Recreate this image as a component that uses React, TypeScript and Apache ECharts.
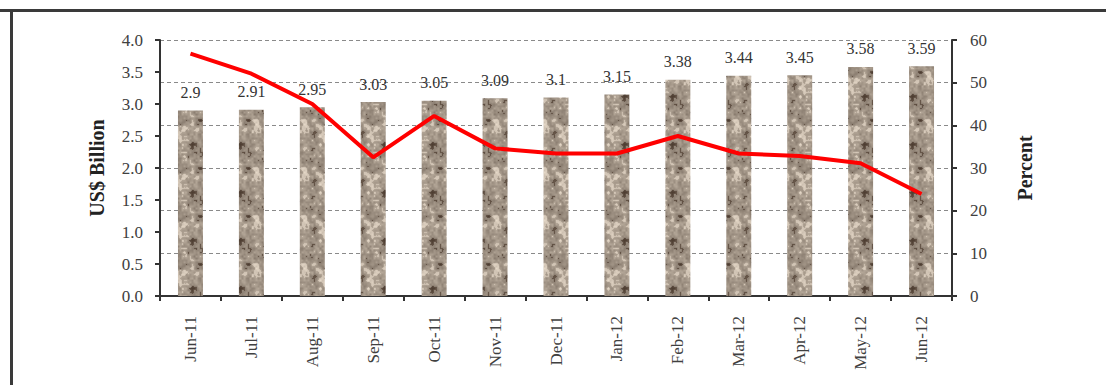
import React, { useEffect, useRef } from "react";
import * as echarts from "echarts";

const months = [
  "Jun-11", "Jul-11", "Aug-11", "Sep-11", "Oct-11", "Nov-11", "Dec-11",
  "Jan-12", "Feb-12", "Mar-12", "Apr-12", "May-12", "Jun-12",
];
const valuesBn = [2.9, 2.91, 2.95, 3.03, 3.05, 3.09, 3.1, 3.15, 3.38, 3.44, 3.45, 3.58, 3.59];
const sharePct = [56.8, 52.1, 45, 32.5, 42.2, 34.6, 33.4, 33.4, 37.5, 33.4, 32.8, 31.1, 23.9];

const SERIF = "Liberation Serif";

// Deterministic integer hash -> [0, 1)
function hash(x: number, y: number, s: number): number {
  let h = Math.imul(x, 374761393) ^ Math.imul(y, 668265263) ^ Math.imul(s, 1442695041);
  h = Math.imul(h ^ (h >>> 13), 1274126177);
  h = h ^ (h >>> 16);
  return (h >>> 0) / 4294967296;
}

// Tileable value noise
function valueNoise(px: number, py: number, cell: number, size: number, seed: number): number {
  const n = size / cell;
  const gx = px / cell;
  const gy = py / cell;
  const x0 = Math.floor(gx);
  const y0 = Math.floor(gy);
  const fx = gx - x0;
  const fy = gy - y0;
  const sx = fx * fx * (3 - 2 * fx);
  const sy = fy * fy * (3 - 2 * fy);
  const w = (v: number) => ((v % n) + n) % n;
  const a = hash(w(x0), w(y0), seed);
  const b = hash(w(x0 + 1), w(y0), seed);
  const c = hash(w(x0), w(y0 + 1), seed);
  const d = hash(w(x0 + 1), w(y0 + 1), seed);
  return (a * (1 - sx) + b * sx) * (1 - sy) + (c * (1 - sx) + d * sx) * sy;
}

// Granite-like stone fill for the bars
function makeStoneTexture(): HTMLCanvasElement {
  const size = 48;
  const cv = document.createElement("canvas");
  cv.width = size;
  cv.height = size;
  const ctx = cv.getContext("2d")!;
  const img = ctx.createImageData(size, size);
  for (let y = 0; y < size; y++) {
    for (let x = 0; x < size; x++) {
      const n1 = valueNoise(x, y, 8, size, 1);
      const n2 = valueNoise(x, y, 4, size, 2);
      const n3 = valueNoise(x, y, 2, size, 3);
      const v = 0.35 * n1 + 0.35 * n2 + 0.3 * n3;
      let r = 160, g = 147, b = 133;
      const k = (v - 0.5) * 110;
      r += k; g += k; b += k * 0.95;
      if (v < 0.3) { r -= 35; g -= 38; b -= 38; }
      if (v > 0.68) { r += 22; g += 22; b += 22; }
      const i = (y * size + x) * 4;
      img.data[i] = Math.max(0, Math.min(255, r));
      img.data[i + 1] = Math.max(0, Math.min(255, g));
      img.data[i + 2] = Math.max(0, Math.min(255, b));
      img.data[i + 3] = 255;
    }
  }
  ctx.putImageData(img, 0, 0);
  return cv;
}

export default function App() {
  const ref = useRef<HTMLDivElement>(null);

  useEffect(() => {
    if (!ref.current) return;
    const chart = echarts.init(ref.current, null, { renderer: "svg" });
    const tex = makeStoneTexture();

    const axisLine = { show: true, lineStyle: { color: "#333333", width: 2 } };
    const axisTick = { show: true, inside: false, length: 5, lineStyle: { color: "#333333", width: 2 } };
    const tickLabel = { color: "#404040", fontFamily: SERIF, fontSize: 17 };

    chart.setOption({
      animation: false,
      backgroundColor: "#ffffff",
      grid: { left: 160, right: 154, top: 40, bottom: 89, containLabel: false },
      graphic: [
        { type: "rect", left: 0, top: 9, shape: { width: 1106, height: 3 }, style: { fill: "#3a3a3a" } },
        { type: "rect", left: 10, top: 9, shape: { width: 3, height: 376 }, style: { fill: "#3a3a3a" } },
      ],
      xAxis: {
        type: "category",
        data: months,
        axisLine,
        axisTick: { ...axisTick, alignWithLabel: false },
        axisLabel: { ...tickLabel, rotate: 90, margin: 20, interval: 0 },
        splitLine: { show: false },
      },
      yAxis: [
        {
          type: "value",
          min: 0,
          max: 4,
          interval: 0.5,
          position: "left",
          name: "US$ Billion",
          nameLocation: "middle",
          nameGap: 53,
          nameRotate: 90,
          nameTextStyle: { fontFamily: SERIF, fontSize: 20, fontWeight: "bold", color: "#222222" },
          axisLine,
          axisTick,
          axisLabel: { ...tickLabel, margin: 17, formatter: (v: number) => v.toFixed(1) },
          splitLine: { show: false },
        },
        {
          type: "value",
          min: 0,
          max: 60,
          interval: 10,
          position: "right",
          name: "Percent",
          nameLocation: "middle",
          nameGap: 63,
          nameRotate: 90,
          nameTextStyle: { fontFamily: SERIF, fontSize: 20, fontWeight: "bold", color: "#222222" },
          axisLine,
          axisTick,
          axisLabel: { ...tickLabel, margin: 18 },
          splitLine: { show: true, lineStyle: { color: "#8a8a8a", width: 1, type: [4, 3] } },
        },
      ],
      series: [
        {
          type: "bar",
          yAxisIndex: 0,
          data: valuesBn,
          barWidth: "41%",
          itemStyle: {
            color: { image: tex, repeat: "repeat", imageWidth: tex.width, imageHeight: tex.height },
          },
          label: {
            show: true,
            position: "top",
            distance: 10,
            color: "#333333",
            fontFamily: SERIF,
            fontSize: 16,
            formatter: (p: any) => String(p.value),
          },
          z: 2,
        },
        {
          type: "line",
          yAxisIndex: 1,
          data: sharePct,
          symbol: "none",
          lineStyle: { color: "#ff0000", width: 4 },
          z: 3,
        },
      ],
    });

    return () => chart.dispose();
  }, []);

  return (
    <div
      ref={ref}
      style={{ position: "fixed", left: 0, top: 0, width: 1106, height: 385, background: "#ffffff" }}
    />
  );
}
